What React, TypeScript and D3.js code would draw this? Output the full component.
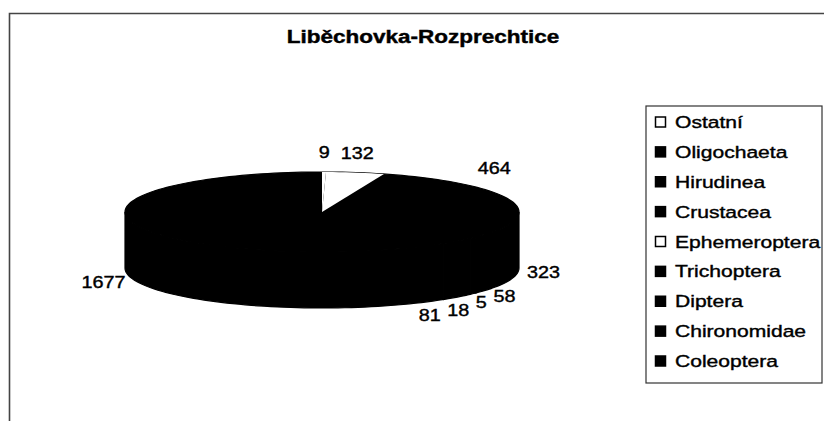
// @ts-nocheck
import * as d3 from "d3";

const title = "Liběchovka-Rozprechtice";
const taxa = [
  "Ostatní",
  "Oligochaeta",
  "Hirudinea",
  "Crustacea",
  "Ephemeroptera",
  "Trichoptera",
  "Diptera",
  "Chironomidae",
  "Coleoptera",
];
const counts = [9, 132, 464, 323, 58, 5, 18, 81, 1677];

// the scan turned most fills black; these are what the picture shows
const sliceFill = ["#fff", "#fff", "#000", "#000", "#000", "#000", "#000", "#000", "#000"];
const legendFill = ["#fff", "#000", "#000", "#000", "#fff", "#000", "#000", "#000", "#000"];

const W = 824;
const H = 421;
const cx = 322;
const cy = 212;
const rx = 197;
const ry = 40;
const depth = 56;

const FONT = "'Liberation Sans', Arial, sans-serif";

const pt = (a, y0 = cy) => [cx + rx * Math.sin(a), y0 - ry * Math.cos(a)];

function arcPts(a0, a1, y0) {
  const n = Math.max(2, Math.ceil(((a1 - a0) / Math.PI) * 90));
  return d3.range(n + 1).map((i) => pt(a0 + ((a1 - a0) * i) / n, y0));
}

const poly = (pts) => "M" + pts.map((p) => p.join(",")).join("L") + "Z";

function topPath(d) {
  return poly([[cx, cy]].concat(arcPts(d.startAngle, d.endAngle, cy)));
}

function sidePath(d) {
  const s = Math.max(d.startAngle, Math.PI / 2);
  const e = Math.min(d.endAngle, (3 * Math.PI) / 2);
  if (e <= s) return null;
  return poly(arcPts(s, e, cy).concat(arcPts(s, e, cy + depth).reverse()));
}

const labelR = 208;
const digitW = 11;
const gap = 6;

function placeLabels(arcs) {
  const labels = arcs.map((d, i) => {
    const a = (d.startAngle + d.endAngle) / 2;
    return { i, a, text: String(counts[i]), w: String(counts[i]).length * digitW };
  });
  const geo = (l) => {
    const s = Math.sin(l.a);
    const c = Math.cos(l.a);
    const x = cx + labelR * s;
    const yc = c >= 0 ? cy - 12 - 48 * c : cy + depth - 6 - 60 * c;
    let left;
    let anchor;
    if (s > 0.3) { left = x; anchor = "start"; }
    else if (s < -0.3) { left = x - l.w; anchor = "end"; }
    else { left = x - l.w / 2; anchor = "middle"; }
    return { x, yc, left, right: left + l.w, anchor };
  };
  labels.forEach((l) => Object.assign(l, geo(l)));
  // push crowded labels on the front right further round the rim
  for (let k = 1; k < labels.length; k++) {
    const prev = labels[k - 1];
    const l = labels[k];
    if (l.a < Math.PI / 2 || l.a > Math.PI) continue;
    let guard = 0;
    while (
      guard++ < 300 &&
      Math.abs(l.yc - prev.yc) < 12 &&
      l.right > prev.left - gap &&
      l.left < prev.right + gap
    ) {
      l.a += 0.005;
      Object.assign(l, geo(l));
    }
  }
  return labels;
}

function StretchText({ x, y, sx = 1.2, size, weight = "normal", anchor = "start", children }) {
  return (
    <text
      transform={`translate(${x},${y}) scale(${sx},1)`}
      fontFamily={FONT}
      fontSize={size}
      fontWeight={weight}
      textAnchor={anchor}
      fill="#000"
      stroke="#000"
      strokeWidth={0.4}
    >
      {children}
    </text>
  );
}

export default function App() {
  const pie = d3.pie().sort(null).startAngle(0).endAngle(2 * Math.PI);
  const arcs = pie(counts);
  const labels = placeLabels(arcs);

  const legendX = 646;
  const legendY = 106;
  const legendW = 176;
  const legendH = 277;
  const itemY = d3.scalePoint().domain(taxa).range([122, 361]);

  const fullTop = arcPts(0, 2 * Math.PI, cy);

  return (
    <svg
      width={W}
      height={H}
      style={{ position: "absolute", left: 0, top: 0, background: "#fff" }}
    >
      <path d={`M9.5,${H}V13.5H${W}`} fill="none" stroke="#444" strokeWidth={1.6} />

      <StretchText x={423} y={43} size={18} weight="bold" sx={1.25} anchor="middle">
        {title}
      </StretchText>

      <g>
        {arcs.map((d, i) => {
          const p = sidePath(d);
          return p ? <path key={"s" + i} d={p} fill="#000" stroke="#000" strokeWidth={1.2} /> : null;
        })}
        <path d={poly(fullTop)} fill="#000" stroke="#000" strokeWidth={1.2} />
        {arcs.map((d, i) =>
          sliceFill[i] === "#000" ? null : (
            <path key={"t" + i} d={topPath(d)} fill={sliceFill[i]} stroke="none" />
          )
        )}
      </g>

      {labels.map((l) => (
        <StretchText key={"l" + l.i} x={l.x} y={l.yc + 6} size={16.5} sx={1.2} anchor={l.anchor}>
          {l.text}
        </StretchText>
      ))}

      <rect x={legendX} y={legendY} width={legendW} height={legendH} fill="#fff" stroke="#333" strokeWidth={1.2} />
      {taxa.map((t, i) => (
        <g key={t}>
          <rect
            x={655.5}
            y={itemY(t) - 5}
            width={10}
            height={10}
            fill={legendFill[i]}
            stroke="#000"
            strokeWidth={1.5}
          />
          <StretchText x={675} y={itemY(t) + 6} size={17} sx={1.24}>
            {t}
          </StretchText>
        </g>
      ))}
    </svg>
  );
}
